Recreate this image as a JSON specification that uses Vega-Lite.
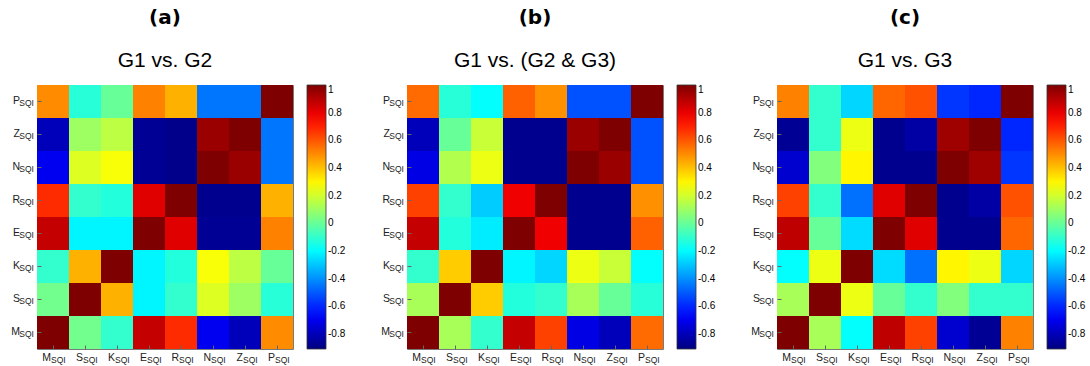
{
  "$schema": "https://vega.github.io/schema/vega-lite/v6.json",
  "padding": {"left": 10, "top": 7, "right": 2, "bottom": 2},
  "background": "white",
  "config": {
    "view": {"stroke": "#7a7a7a", "strokeWidth": 1},
    "font": "Liberation Sans"
  },
  "datasets": {
    "cells": [
      {"p":"a","r":"P","c":"M","v":0.5},{"p":"a","r":"P","c":"S","v":-0.12},{"p":"a","r":"P","c":"K","v":0},{"p":"a","r":"P","c":"E","v":0.52},{"p":"a","r":"P","c":"R","v":0.43},{"p":"a","r":"P","c":"N","v":-0.45},{"p":"a","r":"P","c":"Z","v":-0.45},{"p":"a","r":"P","c":"P","v":1},
      {"p":"a","r":"Z","c":"M","v":-0.8},{"p":"a","r":"Z","c":"S","v":0.1},{"p":"a","r":"Z","c":"K","v":0.16},{"p":"a","r":"Z","c":"E","v":-0.87},{"p":"a","r":"Z","c":"R","v":-0.89},{"p":"a","r":"Z","c":"N","v":0.95},{"p":"a","r":"Z","c":"Z","v":1},{"p":"a","r":"Z","c":"P","v":-0.45},
      {"p":"a","r":"N","c":"M","v":-0.7},{"p":"a","r":"N","c":"S","v":0.22},{"p":"a","r":"N","c":"K","v":0.27},{"p":"a","r":"N","c":"E","v":-0.87},{"p":"a","r":"N","c":"R","v":-0.89},{"p":"a","r":"N","c":"N","v":1},{"p":"a","r":"N","c":"Z","v":0.95},{"p":"a","r":"N","c":"P","v":-0.45},
      {"p":"a","r":"R","c":"M","v":0.68},{"p":"a","r":"R","c":"S","v":-0.1},{"p":"a","r":"R","c":"K","v":-0.13},{"p":"a","r":"R","c":"E","v":0.82},{"p":"a","r":"R","c":"R","v":1},{"p":"a","r":"R","c":"N","v":-0.88},{"p":"a","r":"R","c":"Z","v":-0.88},{"p":"a","r":"R","c":"P","v":0.43},
      {"p":"a","r":"E","c":"M","v":0.87},{"p":"a","r":"E","c":"S","v":-0.21},{"p":"a","r":"E","c":"K","v":-0.21},{"p":"a","r":"E","c":"E","v":1},{"p":"a","r":"E","c":"R","v":0.82},{"p":"a","r":"E","c":"N","v":-0.87},{"p":"a","r":"E","c":"Z","v":-0.87},{"p":"a","r":"E","c":"P","v":0.52},
      {"p":"a","r":"K","c":"M","v":-0.1},{"p":"a","r":"K","c":"S","v":0.43},{"p":"a","r":"K","c":"K","v":1},{"p":"a","r":"K","c":"E","v":-0.21},{"p":"a","r":"K","c":"R","v":-0.13},{"p":"a","r":"K","c":"N","v":0.27},{"p":"a","r":"K","c":"Z","v":0.16},{"p":"a","r":"K","c":"P","v":0},
      {"p":"a","r":"S","c":"M","v":0.02},{"p":"a","r":"S","c":"S","v":1},{"p":"a","r":"S","c":"K","v":0.43},{"p":"a","r":"S","c":"E","v":-0.21},{"p":"a","r":"S","c":"R","v":-0.1},{"p":"a","r":"S","c":"N","v":0.22},{"p":"a","r":"S","c":"Z","v":0.1},{"p":"a","r":"S","c":"P","v":-0.12},
      {"p":"a","r":"M","c":"M","v":1},{"p":"a","r":"M","c":"S","v":0.02},{"p":"a","r":"M","c":"K","v":-0.1},{"p":"a","r":"M","c":"E","v":0.87},{"p":"a","r":"M","c":"R","v":0.68},{"p":"a","r":"M","c":"N","v":-0.7},{"p":"a","r":"M","c":"Z","v":-0.8},{"p":"a","r":"M","c":"P","v":0.5},

      {"p":"b","r":"P","c":"M","v":0.56},{"p":"b","r":"P","c":"S","v":-0.12},{"p":"b","r":"P","c":"K","v":-0.19},{"p":"b","r":"P","c":"E","v":0.58},{"p":"b","r":"P","c":"R","v":0.49},{"p":"b","r":"P","c":"N","v":-0.52},{"p":"b","r":"P","c":"Z","v":-0.52},{"p":"b","r":"P","c":"P","v":1},
      {"p":"b","r":"Z","c":"M","v":-0.8},{"p":"b","r":"Z","c":"S","v":0},{"p":"b","r":"Z","c":"K","v":0.18},{"p":"b","r":"Z","c":"E","v":-0.88},{"p":"b","r":"Z","c":"R","v":-0.88},{"p":"b","r":"Z","c":"N","v":0.95},{"p":"b","r":"Z","c":"Z","v":1},{"p":"b","r":"Z","c":"P","v":-0.52},
      {"p":"b","r":"N","c":"M","v":-0.72},{"p":"b","r":"N","c":"S","v":0.14},{"p":"b","r":"N","c":"K","v":0.25},{"p":"b","r":"N","c":"E","v":-0.88},{"p":"b","r":"N","c":"R","v":-0.88},{"p":"b","r":"N","c":"N","v":1},{"p":"b","r":"N","c":"Z","v":0.95},{"p":"b","r":"N","c":"P","v":-0.52},
      {"p":"b","r":"R","c":"M","v":0.64},{"p":"b","r":"R","c":"S","v":-0.1},{"p":"b","r":"R","c":"K","v":-0.29},{"p":"b","r":"R","c":"E","v":0.79},{"p":"b","r":"R","c":"R","v":1},{"p":"b","r":"R","c":"N","v":-0.88},{"p":"b","r":"R","c":"Z","v":-0.88},{"p":"b","r":"R","c":"P","v":0.49},
      {"p":"b","r":"E","c":"M","v":0.87},{"p":"b","r":"E","c":"S","v":-0.13},{"p":"b","r":"E","c":"K","v":-0.23},{"p":"b","r":"E","c":"E","v":1},{"p":"b","r":"E","c":"R","v":0.79},{"p":"b","r":"E","c":"N","v":-0.88},{"p":"b","r":"E","c":"Z","v":-0.88},{"p":"b","r":"E","c":"P","v":0.58},
      {"p":"b","r":"K","c":"M","v":-0.1},{"p":"b","r":"K","c":"S","v":0.38},{"p":"b","r":"K","c":"K","v":1},{"p":"b","r":"K","c":"E","v":-0.21},{"p":"b","r":"K","c":"R","v":-0.27},{"p":"b","r":"K","c":"N","v":0.25},{"p":"b","r":"K","c":"Z","v":0.18},{"p":"b","r":"K","c":"P","v":-0.19},
      {"p":"b","r":"S","c":"M","v":0.12},{"p":"b","r":"S","c":"S","v":1},{"p":"b","r":"S","c":"K","v":0.38},{"p":"b","r":"S","c":"E","v":-0.13},{"p":"b","r":"S","c":"R","v":-0.1},{"p":"b","r":"S","c":"N","v":0.12},{"p":"b","r":"S","c":"Z","v":0},{"p":"b","r":"S","c":"P","v":-0.12},
      {"p":"b","r":"M","c":"M","v":1},{"p":"b","r":"M","c":"S","v":0.12},{"p":"b","r":"M","c":"K","v":-0.1},{"p":"b","r":"M","c":"E","v":0.87},{"p":"b","r":"M","c":"R","v":0.64},{"p":"b","r":"M","c":"N","v":-0.72},{"p":"b","r":"M","c":"Z","v":-0.8},{"p":"b","r":"M","c":"P","v":0.56},

      {"p":"c","r":"P","c":"M","v":0.52},{"p":"c","r":"P","c":"S","v":-0.1},{"p":"c","r":"P","c":"K","v":-0.27},{"p":"c","r":"P","c":"E","v":0.57},{"p":"c","r":"P","c":"R","v":0.61},{"p":"c","r":"P","c":"N","v":-0.57},{"p":"c","r":"P","c":"Z","v":-0.6},{"p":"c","r":"P","c":"P","v":1},
      {"p":"c","r":"Z","c":"M","v":-0.87},{"p":"c","r":"Z","c":"S","v":-0.1},{"p":"c","r":"Z","c":"K","v":0.25},{"p":"c","r":"Z","c":"E","v":-0.88},{"p":"c","r":"Z","c":"R","v":-0.84},{"p":"c","r":"Z","c":"N","v":0.94},{"p":"c","r":"Z","c":"Z","v":1},{"p":"c","r":"Z","c":"P","v":-0.6},
      {"p":"c","r":"N","c":"M","v":-0.76},{"p":"c","r":"N","c":"S","v":0.05},{"p":"c","r":"N","c":"K","v":0.3},{"p":"c","r":"N","c":"E","v":-0.88},{"p":"c","r":"N","c":"R","v":-0.88},{"p":"c","r":"N","c":"N","v":1},{"p":"c","r":"N","c":"Z","v":0.94},{"p":"c","r":"N","c":"P","v":-0.57},
      {"p":"c","r":"R","c":"M","v":0.64},{"p":"c","r":"R","c":"S","v":-0.1},{"p":"c","r":"R","c":"K","v":-0.46},{"p":"c","r":"R","c":"E","v":0.82},{"p":"c","r":"R","c":"R","v":1},{"p":"c","r":"R","c":"N","v":-0.88},{"p":"c","r":"R","c":"Z","v":-0.84},{"p":"c","r":"R","c":"P","v":0.61},
      {"p":"c","r":"E","c":"M","v":0.88},{"p":"c","r":"E","c":"S","v":0},{"p":"c","r":"E","c":"K","v":-0.26},{"p":"c","r":"E","c":"E","v":1},{"p":"c","r":"E","c":"R","v":0.82},{"p":"c","r":"E","c":"N","v":-0.88},{"p":"c","r":"E","c":"Z","v":-0.88},{"p":"c","r":"E","c":"P","v":0.57},
      {"p":"c","r":"K","c":"M","v":-0.19},{"p":"c","r":"K","c":"S","v":0.25},{"p":"c","r":"K","c":"K","v":1},{"p":"c","r":"K","c":"E","v":-0.26},{"p":"c","r":"K","c":"R","v":-0.46},{"p":"c","r":"K","c":"N","v":0.3},{"p":"c","r":"K","c":"Z","v":0.25},{"p":"c","r":"K","c":"P","v":-0.27},
      {"p":"c","r":"S","c":"M","v":0.12},{"p":"c","r":"S","c":"S","v":1},{"p":"c","r":"S","c":"K","v":0.25},{"p":"c","r":"S","c":"E","v":0},{"p":"c","r":"S","c":"R","v":-0.1},{"p":"c","r":"S","c":"N","v":0.05},{"p":"c","r":"S","c":"Z","v":-0.1},{"p":"c","r":"S","c":"P","v":-0.1},
      {"p":"c","r":"M","c":"M","v":1},{"p":"c","r":"M","c":"S","v":0.12},{"p":"c","r":"M","c":"K","v":-0.19},{"p":"c","r":"M","c":"E","v":0.88},{"p":"c","r":"M","c":"R","v":0.64},{"p":"c","r":"M","c":"N","v":-0.76},{"p":"c","r":"M","c":"Z","v":-0.87},{"p":"c","r":"M","c":"P","v":0.52}
    ]
  },
  "resolve": {"scale": {"color": "independent"}, "legend": {"color": "independent"}},
  "spacing": 33,
  "hconcat": [
    {
      "title": {"text": "(a)", "subtitle": "G1 vs. G2", "font": "DejaVu Sans", "fontSize": 20, "fontWeight": "bold", "color": "black", "subtitleFont": "Liberation Sans", "subtitleFontSize": 21, "subtitleColor": "black", "subtitlePadding": 22, "offset": 14, "anchor": "middle", "frame": "group"},
      "width": 256, "height": 264,
      "data": {"name": "cells"},
      "transform": [{"filter": "datum.p == 'a'"}],
      "layer": [
        {"mark": {"type": "rect"},
         "encoding": {
           "x": {"field": "c", "type": "nominal", "sort": ["M","S","K","E","R","N","Z","P"], "scale": {"paddingInner": 0, "paddingOuter": 0}, "axis": {"labels": false, "title": null, "domain": false, "grid": false, "tickSize": -4, "tickColor": "#666"}},
           "y": {"field": "r", "type": "nominal", "sort": ["P","Z","N","R","E","K","S","M"], "scale": {"paddingInner": 0, "paddingOuter": 0}, "axis": {"labels": false, "title": null, "domain": false, "grid": false, "tickSize": -4, "tickColor": "#666"}},
           "color": {"field": "v", "type": "quantitative", "scale": {"domain": [-0.91, -0.67125, -0.19375, 0.28375, 0.76125, 1.0], "range": ["#00007f","#0000ff","#00ffff","#ffff00","#ff0000","#7f0000"], "interpolate": "rgb"},
             "legend": {"title": null, "orient": "right", "offset": 14, "padding": 0, "gradientLength": 264, "gradientThickness": 19, "values": [1,0.8,0.6,0.4,0.2,0,-0.2,-0.4,-0.6,-0.8], "labelExpr": "replace(format(datum.value, '~g'), '\u2212', '-')", "labelFontSize": 10, "labelFont": "Liberation Sans", "labelColor": "black", "labelOverlap": false, "labelOffset": 2, "gradientStrokeColor": "#333", "gradientStrokeWidth": 0.8}}
         }},
        {"transform": [{"filter": "datum.r == 'M'"}],
         "mark": {"type": "text", "align": "right", "baseline": "middle", "dx": -2, "dy": 25, "fontSize": 10.5, "color": "#222"},
         "encoding": {"x": {"field": "c", "type": "nominal", "sort": ["M","S","K","E","R","N","Z","P"]}, "y": {"datum": "M"}, "text": {"field": "c"}}},
        {"transform": [{"filter": "datum.r == 'M'"}],
         "mark": {"type": "text", "align": "left", "baseline": "middle", "dx": -2, "dy": 27.5, "fontSize": 8.5, "color": "#222", "text": "SQI"},
         "encoding": {"x": {"field": "c", "type": "nominal", "sort": ["M","S","K","E","R","N","Z","P"]}, "y": {"datum": "M"}}},
        {"transform": [{"filter": "datum.c == 'M'"}],
         "mark": {"type": "text", "align": "right", "baseline": "middle", "dx": -33, "dy": -1, "fontSize": 10.5, "color": "#222"},
         "encoding": {"y": {"field": "r", "type": "nominal", "sort": ["P","Z","N","R","E","K","S","M"]}, "x": {"datum": "M"}, "text": {"field": "r"}}},
        {"transform": [{"filter": "datum.c == 'M'"}],
         "mark": {"type": "text", "align": "right", "baseline": "middle", "dx": -19, "dy": 1.5, "fontSize": 8.5, "color": "#222", "text": "SQI"},
         "encoding": {"y": {"field": "r", "type": "nominal", "sort": ["P","Z","N","R","E","K","S","M"]}, "x": {"datum": "M"}}}
      ]
    },
    {
      "title": {"text": "(b)", "subtitle": "G1 vs. (G2 & G3)", "font": "DejaVu Sans", "fontSize": 20, "fontWeight": "bold", "color": "black", "subtitleFont": "Liberation Sans", "subtitleFontSize": 21, "subtitleColor": "black", "subtitlePadding": 22, "offset": 14, "anchor": "middle", "frame": "group"},
      "width": 256, "height": 264,
      "data": {"name": "cells"},
      "transform": [{"filter": "datum.p == 'b'"}],
      "layer": [
        {"mark": {"type": "rect"},
         "encoding": {
           "x": {"field": "c", "type": "nominal", "sort": ["M","S","K","E","R","N","Z","P"], "scale": {"paddingInner": 0, "paddingOuter": 0}, "axis": {"labels": false, "title": null, "domain": false, "grid": false, "tickSize": -4, "tickColor": "#666"}},
           "y": {"field": "r", "type": "nominal", "sort": ["P","Z","N","R","E","K","S","M"], "scale": {"paddingInner": 0, "paddingOuter": 0}, "axis": {"labels": false, "title": null, "domain": false, "grid": false, "tickSize": -4, "tickColor": "#666"}},
           "color": {"field": "v", "type": "quantitative", "scale": {"domain": [-0.91, -0.67125, -0.19375, 0.28375, 0.76125, 1.0], "range": ["#00007f","#0000ff","#00ffff","#ffff00","#ff0000","#7f0000"], "interpolate": "rgb"},
             "legend": {"title": null, "orient": "right", "offset": 14, "padding": 0, "gradientLength": 264, "gradientThickness": 19, "values": [1,0.8,0.6,0.4,0.2,0,-0.2,-0.4,-0.6,-0.8], "labelExpr": "replace(format(datum.value, '~g'), '\u2212', '-')", "labelFontSize": 10, "labelFont": "Liberation Sans", "labelColor": "black", "labelOverlap": false, "labelOffset": 2, "gradientStrokeColor": "#333", "gradientStrokeWidth": 0.8}}
         }},
        {"transform": [{"filter": "datum.r == 'M'"}],
         "mark": {"type": "text", "align": "right", "baseline": "middle", "dx": -2, "dy": 25, "fontSize": 10.5, "color": "#222"},
         "encoding": {"x": {"field": "c", "type": "nominal", "sort": ["M","S","K","E","R","N","Z","P"]}, "y": {"datum": "M"}, "text": {"field": "c"}}},
        {"transform": [{"filter": "datum.r == 'M'"}],
         "mark": {"type": "text", "align": "left", "baseline": "middle", "dx": -2, "dy": 27.5, "fontSize": 8.5, "color": "#222", "text": "SQI"},
         "encoding": {"x": {"field": "c", "type": "nominal", "sort": ["M","S","K","E","R","N","Z","P"]}, "y": {"datum": "M"}}},
        {"transform": [{"filter": "datum.c == 'M'"}],
         "mark": {"type": "text", "align": "right", "baseline": "middle", "dx": -33, "dy": -1, "fontSize": 10.5, "color": "#222"},
         "encoding": {"y": {"field": "r", "type": "nominal", "sort": ["P","Z","N","R","E","K","S","M"]}, "x": {"datum": "M"}, "text": {"field": "r"}}},
        {"transform": [{"filter": "datum.c == 'M'"}],
         "mark": {"type": "text", "align": "right", "baseline": "middle", "dx": -19, "dy": 1.5, "fontSize": 8.5, "color": "#222", "text": "SQI"},
         "encoding": {"y": {"field": "r", "type": "nominal", "sort": ["P","Z","N","R","E","K","S","M"]}, "x": {"datum": "M"}}}
      ]
    },
    {
      "title": {"text": "(c)", "subtitle": "G1 vs. G3", "font": "DejaVu Sans", "fontSize": 20, "fontWeight": "bold", "color": "black", "subtitleFont": "Liberation Sans", "subtitleFontSize": 21, "subtitleColor": "black", "subtitlePadding": 22, "offset": 14, "anchor": "middle", "frame": "group"},
      "width": 256, "height": 264,
      "data": {"name": "cells"},
      "transform": [{"filter": "datum.p == 'c'"}],
      "layer": [
        {"mark": {"type": "rect"},
         "encoding": {
           "x": {"field": "c", "type": "nominal", "sort": ["M","S","K","E","R","N","Z","P"], "scale": {"paddingInner": 0, "paddingOuter": 0}, "axis": {"labels": false, "title": null, "domain": false, "grid": false, "tickSize": -4, "tickColor": "#666"}},
           "y": {"field": "r", "type": "nominal", "sort": ["P","Z","N","R","E","K","S","M"], "scale": {"paddingInner": 0, "paddingOuter": 0}, "axis": {"labels": false, "title": null, "domain": false, "grid": false, "tickSize": -4, "tickColor": "#666"}},
           "color": {"field": "v", "type": "quantitative", "scale": {"domain": [-0.91, -0.67125, -0.19375, 0.28375, 0.76125, 1.0], "range": ["#00007f","#0000ff","#00ffff","#ffff00","#ff0000","#7f0000"], "interpolate": "rgb"},
             "legend": {"title": null, "orient": "right", "offset": 14, "padding": 0, "gradientLength": 264, "gradientThickness": 19, "values": [1,0.8,0.6,0.4,0.2,0,-0.2,-0.4,-0.6,-0.8], "labelExpr": "replace(format(datum.value, '~g'), '\u2212', '-')", "labelFontSize": 10, "labelFont": "Liberation Sans", "labelColor": "black", "labelOverlap": false, "labelOffset": 2, "gradientStrokeColor": "#333", "gradientStrokeWidth": 0.8}}
         }},
        {"transform": [{"filter": "datum.r == 'M'"}],
         "mark": {"type": "text", "align": "right", "baseline": "middle", "dx": -2, "dy": 25, "fontSize": 10.5, "color": "#222"},
         "encoding": {"x": {"field": "c", "type": "nominal", "sort": ["M","S","K","E","R","N","Z","P"]}, "y": {"datum": "M"}, "text": {"field": "c"}}},
        {"transform": [{"filter": "datum.r == 'M'"}],
         "mark": {"type": "text", "align": "left", "baseline": "middle", "dx": -2, "dy": 27.5, "fontSize": 8.5, "color": "#222", "text": "SQI"},
         "encoding": {"x": {"field": "c", "type": "nominal", "sort": ["M","S","K","E","R","N","Z","P"]}, "y": {"datum": "M"}}},
        {"transform": [{"filter": "datum.c == 'M'"}],
         "mark": {"type": "text", "align": "right", "baseline": "middle", "dx": -33, "dy": -1, "fontSize": 10.5, "color": "#222"},
         "encoding": {"y": {"field": "r", "type": "nominal", "sort": ["P","Z","N","R","E","K","S","M"]}, "x": {"datum": "M"}, "text": {"field": "r"}}},
        {"transform": [{"filter": "datum.c == 'M'"}],
         "mark": {"type": "text", "align": "right", "baseline": "middle", "dx": -19, "dy": 1.5, "fontSize": 8.5, "color": "#222", "text": "SQI"},
         "encoding": {"y": {"field": "r", "type": "nominal", "sort": ["P","Z","N","R","E","K","S","M"]}, "x": {"datum": "M"}}}
      ]
    }
  ]
}
